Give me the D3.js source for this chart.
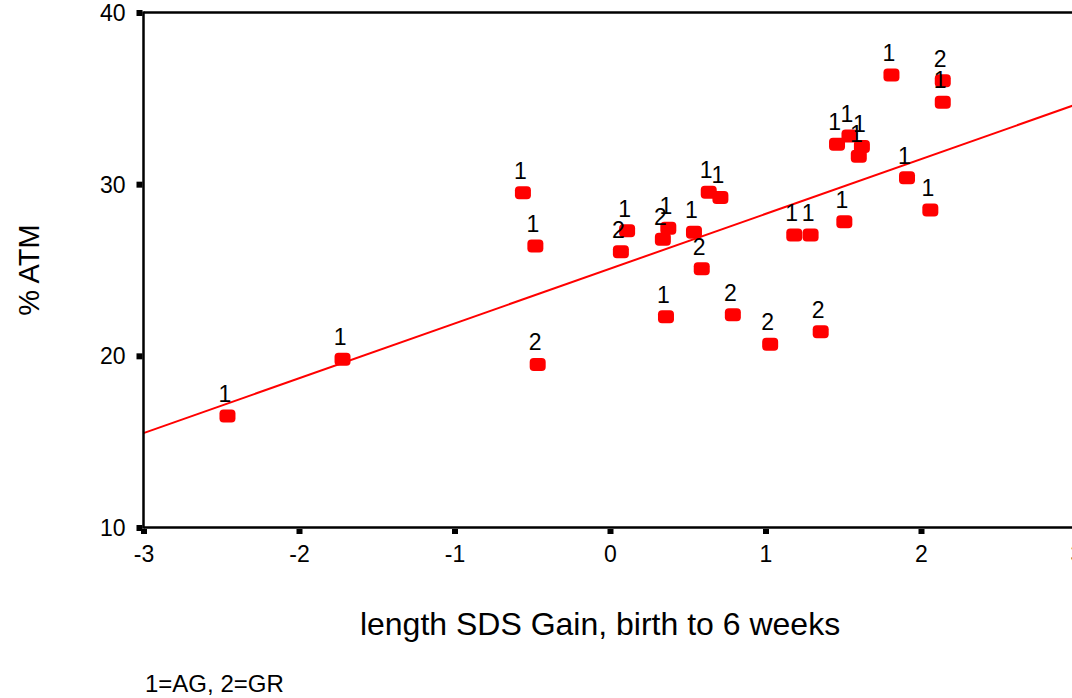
<!DOCTYPE html>
<html>
<head>
<meta charset="utf-8">
<script src="https://cdn.jsdelivr.net/npm/d3@7"></script>
<style>
  html, body { margin: 0; padding: 0; background: #fff; }
  svg { display: block; font-family: "Liberation Sans", Arial, sans-serif; }
</style>
</head>
<body>
<svg id="chart" width="1072" height="698"></svg>
<script>
// ---- data ----
const xValues = [-2.46, -1.72, -0.56, -0.48, -0.465, 0.07, 0.11, 0.34, 0.375, 0.36,
                 0.54, 0.59, 0.635, 0.71, 0.79, 1.03, 1.185, 1.29, 1.355, 1.507,
                 1.46, 1.54, 1.62, 1.60, 1.81, 1.91, 2.06, 2.14, 2.14];
const yValues = [16.5, 19.8, 29.5, 26.4, 19.5, 26.07, 27.29, 26.79, 27.43, 22.28,
                 27.2, 25.08, 29.53, 29.23, 22.4, 20.67, 27.04, 27.04, 21.41, 27.81,
                 32.32, 32.81, 32.2, 31.62, 36.36, 30.38, 28.5, 36.03, 34.77];
const groups  = [1, 1, 1, 1, 2, 2, 1, 2, 1, 1,
                 1, 2, 1, 1, 2, 2, 1, 1, 2, 1,
                 1, 1, 1, 1, 1, 1, 1, 2, 1];
const xTicks = [-3, -2, -1, 0, 1, 2, 3];
const yTicks = [10, 20, 30, 40];
const fitX = [-3, 3];
const fitY = [15.5, 34.65];
const xTitle = "length SDS Gain, birth to 6 weeks";
const yTitle = "% ATM";
const footnote = "1=AG, 2=GR";

// ---- drawing ----
const svg = d3.select("#chart");
const x = d3.scaleLinear().domain([-3, 3]).range([143.5, 1076.5]);
const y = d3.scaleLinear().domain([10, 40]).range([527.5, 12.5]);

const pts = xValues.map((v, i) => ({x: v, y: yValues[i], g: groups[i]}));

// regression line (clipped to the plot)
svg.append("clipPath").attr("id", "plotclip")
  .append("rect").attr("x", x(-3)).attr("y", y(40)).attr("width", 1072 - x(-3)).attr("height", y(10) - y(40));
svg.append("line")
  .attr("clip-path", "url(#plotclip)")
  .attr("x1", x(fitX[0])).attr("y1", y(fitY[0]))
  .attr("x2", x(fitX[1])).attr("y2", y(fitY[1]))
  .attr("stroke", "#ff0000").attr("stroke-width", 2);

// points
svg.append("g").selectAll("rect").data(pts).join("rect")
  .attr("x", d => x(d.x) - 8).attr("y", d => y(d.y) - 6.5)
  .attr("width", 16).attr("height", 13).attr("rx", 4).attr("ry", 4)
  .attr("fill", "#ff0000");

// point labels
svg.append("g").selectAll("text").data(pts).join("text")
  .attr("x", d => x(d.x) - 2.5).attr("y", d => y(d.y) - 14)
  .attr("text-anchor", "middle").attr("font-size", 23).attr("fill", "#000")
  .text(d => d.g);

// axes frame
const frame = svg.append("g").attr("stroke", "#000").attr("stroke-width", 2.5).attr("fill", "none");
frame.append("line").attr("x1", x(-3)).attr("x2", x(-3)).attr("y1", y(40) - 1).attr("y2", y(10) + 1);
frame.append("line").attr("x1", x(-3)).attr("x2", 1072).attr("y1", y(40)).attr("y2", y(40));
frame.append("line").attr("x1", x(-3)).attr("x2", 1072).attr("y1", y(10)).attr("y2", y(10));

// y ticks
const yAxis = d3.axisLeft(y).tickValues(yTicks).tickSize(0).tickPadding(0).tickFormat(d => String(d));
const gy = svg.append("g").attr("transform", `translate(${x(-3)},0)`).call(yAxis);
gy.select(".domain").remove();
gy.selectAll(".tick text").attr("x", -18).attr("dy", "0.35em")
  .attr("font-size", 23).attr("font-family", "Liberation Sans, Arial, sans-serif").attr("fill", "#000");
gy.selectAll(".tick").append("rect").attr("x", -7).attr("y", -3).attr("width", 6).attr("height", 6).attr("fill", "#000");

// x ticks
const xAxis = d3.axisBottom(x).tickValues(xTicks).tickSize(0).tickPadding(0).tickFormat(d => String(d));
const gx = svg.append("g").attr("transform", `translate(0,${y(10)})`).call(xAxis);
gx.select(".domain").remove();
gx.selectAll(".tick text").attr("y", 34).attr("dy", 0)
  .attr("font-size", 23).attr("font-family", "Liberation Sans, Arial, sans-serif").attr("fill", "#000");
gx.selectAll(".tick").append("rect").attr("x", -3).attr("y", 1.5).attr("width", 6).attr("height", 5).attr("fill", "#000");

// titles
svg.append("text").attr("x", 600).attr("y", 635).attr("text-anchor", "middle")
  .attr("font-size", 32).attr("fill", "#000").text(xTitle);
svg.append("text").attr("transform", "translate(39,270) rotate(-90)").attr("text-anchor", "middle")
  .attr("font-size", 29).attr("fill", "#000").text(yTitle);
svg.append("text").attr("x", 145).attr("y", 692).attr("font-size", 24).attr("fill", "#000").text(footnote);
</script>
</body>
</html>
